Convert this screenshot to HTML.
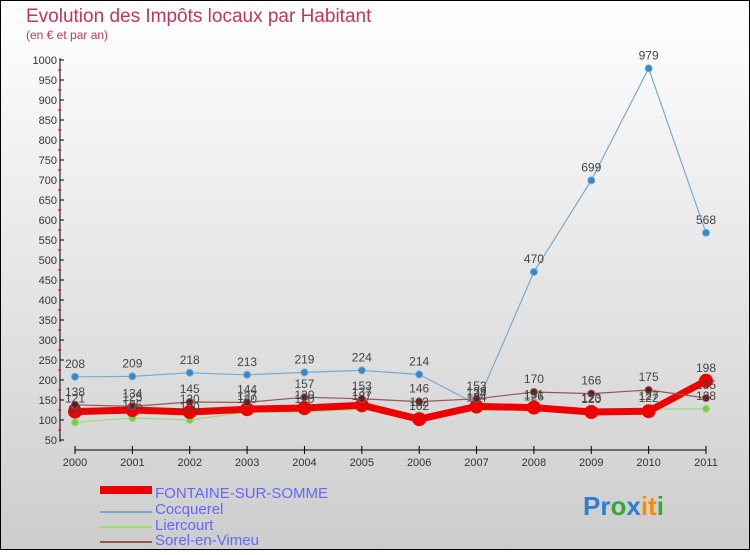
<!DOCTYPE html>
<html><head><meta charset="utf-8"><style>
body{margin:0;width:750px;height:550px;overflow:hidden}
svg text{font-family:"Liberation Sans",sans-serif}
</style></head><body>
<svg width="750" height="550" xmlns="http://www.w3.org/2000/svg">
<defs><linearGradient id="bg" x1="0" y1="0" x2="0" y2="1"><stop offset="0" stop-color="#ffffff"/><stop offset="1" stop-color="#cdcdcd"/></linearGradient></defs>
<rect x="0.5" y="0.5" width="749" height="549" fill="url(#bg)" stroke="#000"/>
<text x="26" y="22" font-size="19" fill="#c0365f">Evolution des Impôts locaux par Habitant</text>
<text x="26" y="39" font-size="12" fill="#c0365f">(en € et par an)</text>
<g id="axes"></g><g id="series"></g><g id="labels"></g>
<g>
<rect x="100" y="486" width="52" height="8" fill="#e00"/>
<text x="155" y="498" font-size="15" fill="#6666ff">FONTAINE-SUR-SOMME</text>
<rect x="100" y="511" width="52" height="2" fill="#7aaad0"/>
<text x="155" y="514" font-size="15" fill="#6666ff">Cocquerel</text>
<rect x="100" y="526" width="52" height="2" fill="#99dd77"/>
<text x="155" y="530" font-size="15" fill="#6666ff">Liercourt</text>
<rect x="100" y="541" width="52" height="2" fill="#995555"/>
<text x="155" y="545" font-size="15" fill="#6666ff">Sorel-en-Vimeu</text>
</g>
<text x="583" y="515" font-size="26" font-weight="bold"><tspan fill="#2a7fd0">Pr</tspan><tspan fill="#33aa33">o</tspan><tspan fill="#2a7fd0">x</tspan><tspan fill="#ff8800">it</tspan><tspan fill="#33aa33">i</tspan></text>
</svg>
<script>
const years=["2000","2001","2002","2003","2004","2005","2006","2007","2008","2009","2010","2011"];
const yTicks=[50,100,150,200,250,300,350,400,450,500,550,600,650,700,750,800,850,900,950,1000];
const fontaine=[121,125,120,127,130,137,102,134,131,120,122,198];
const cocquerel=[208,209,218,213,219,224,214,139,470,699,979,568];
const liercourt=[94,105,100,120,120,127,112,124,126,123,127,128];
const sorel=[138,134,145,144,157,153,146,153,170,166,175,155];
const NS="http://www.w3.org/2000/svg";
const X=i=>75+i*(631/11);
const Y=v=>420-(v-100)*0.4;
function mk(t,a,p){const e=document.createElementNS(NS,t);for(const k in a)e.setAttribute(k,a[k]);p.appendChild(e);return e;}
const ax=document.getElementById('axes');
const yl=mk('line',{x1:60,y1:58,x2:60,y2:442,stroke:'#000'},ax);


yTicks.forEach(v=>{const y=Y(v);
mk('line',{x1:60,y1:y,x2:64,y2:y,stroke:'#000'},ax);
if(v>50)mk('line',{x1:58,y1:y+10,x2:61,y2:y+10,stroke:'#e00'},ax);
const t=mk('text',{x:57,y:y+4,'font-size':11,fill:'#333','text-anchor':'end'},ax);t.textContent=v;

});
const xl=mk('line',{x1:75,y1:450,x2:706,y2:450,stroke:'#000'},ax);


years.forEach((yr,i)=>{mk('line',{x1:X(i),y1:446,x2:X(i),y2:454,stroke:'#000'},ax);
const t=mk('text',{x:X(i),y:466,'font-size':11,fill:'#333','text-anchor':'middle'},ax);t.textContent=yr;

});
const sg=document.getElementById('series'),lg=document.getElementById('labels');
function draw(d,name,col,w,dot,dr){
const p=mk('polyline',{points:d.map((v,i)=>X(i)+','+Y(v)).join(' '),fill:'none',stroke:col,'stroke-width':w,'stroke-linejoin':'round'},sg);


d.forEach((v,i)=>{const c=mk('circle',{cx:X(i),cy:Y(v),r:dr,fill:dot,stroke:col,'stroke-width':1},sg);


const t=mk('text',{x:X(i),y:Y(v)-9,'font-size':12,fill:'#444','text-anchor':'middle'},lg);t.textContent=v;

});}
draw(cocquerel,'cocquerel','#7aaad0',1.2,'#3388cc',3.5);
draw(liercourt,'liercourt','#99dd77',1.2,'#77cc44',3.5);
draw(fontaine,'fontaine','#ee0000',7,'#ee0000',6.5);
draw(sorel,'sorel','#995555',1.2,'#661818',3.5);
</script>
</body></html>
